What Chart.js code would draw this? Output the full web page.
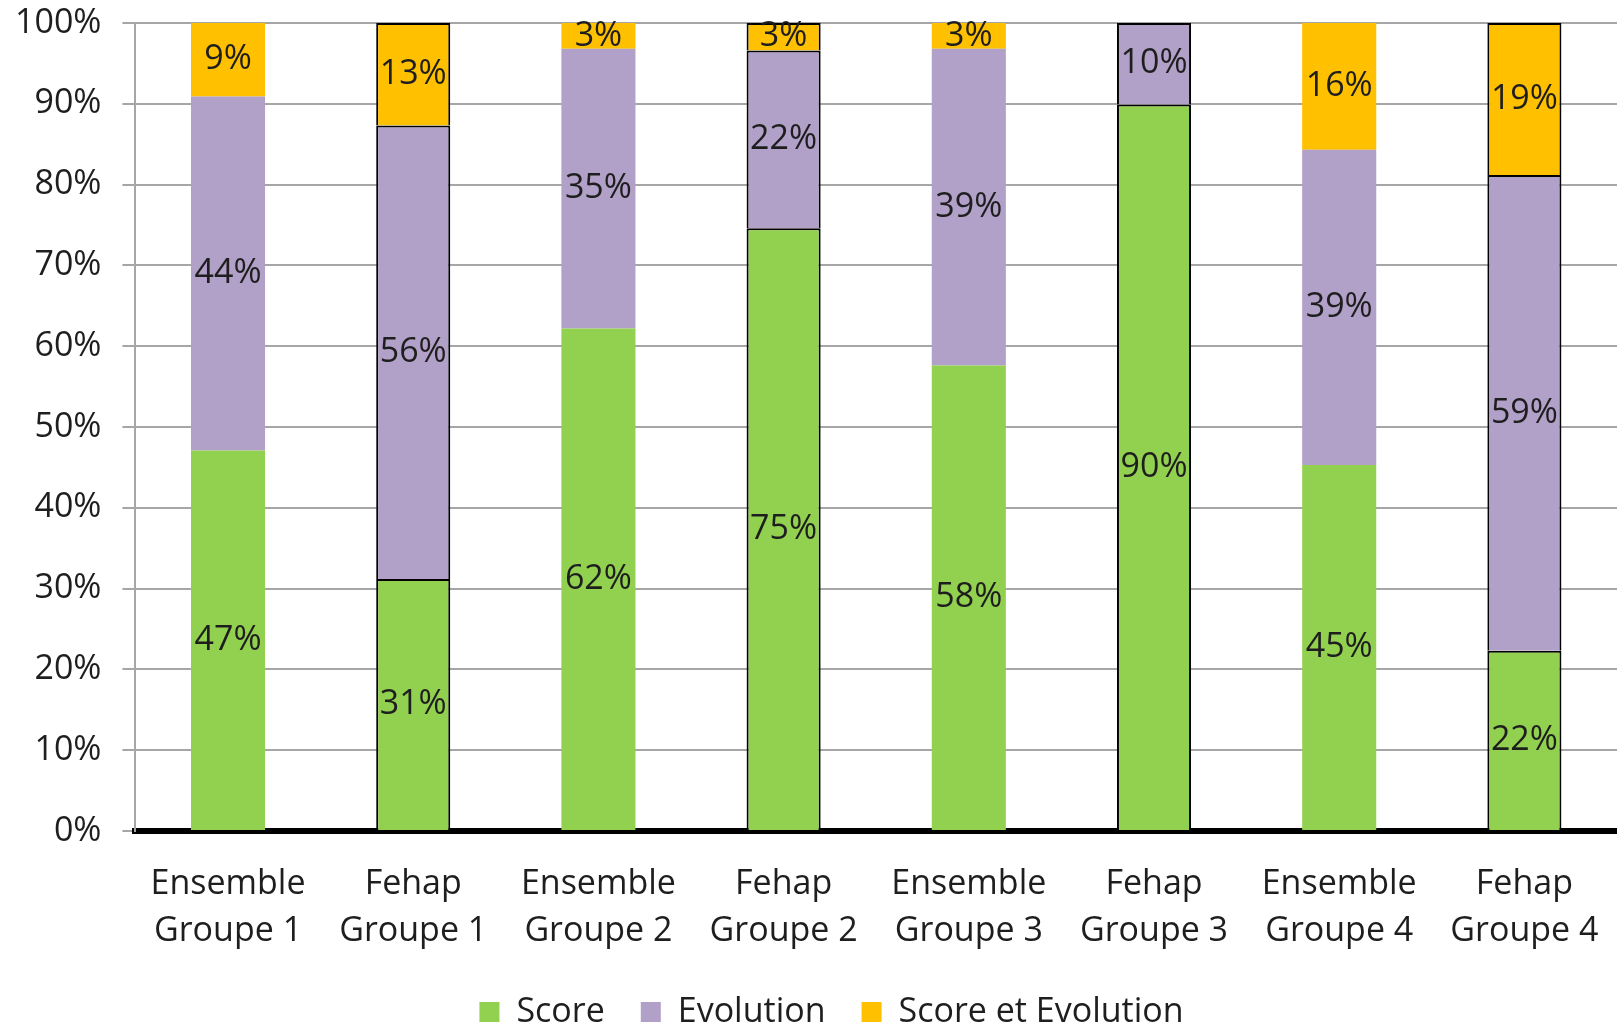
<!DOCTYPE html>
<html lang="fr">
  <head>
    <meta charset="UTF-8" />
    <title>Score / Evolution</title>
    <script src="https://cdn.jsdelivr.net/npm/chart.js"></script>
    <style>
      body { margin: 0; background: #fff; }
    </style>
  </head>
  <body>
    <canvas id="chart" width="1617" height="1024"></canvas>

    <script>
      const categories = [
        ["Ensemble", "Groupe 1"],
        ["Fehap", "Groupe 1"],
        ["Ensemble", "Groupe 2"],
        ["Fehap", "Groupe 2"],
        ["Ensemble", "Groupe 3"],
        ["Fehap", "Groupe 3"],
        ["Ensemble", "Groupe 4"],
        ["Fehap", "Groupe 4"],
      ];
      // barres Fehap encadrées de noir
      const outlined = [false, true, false, true, false, true, false, true];

      const score = [47.1, 31.2, 62.2, 74.6, 57.6, 89.9, 45.3, 22.3];
      const evolution = [43.8, 56.1, 34.6, 22.0, 39.2, 10.1, 39.0, 58.9];
      const scoreEtEvolution = [9.1, 12.7, 3.2, 3.4, 3.2, 0, 15.7, 18.8];

      const FONT = "'Open Sans', sans-serif";
      const TEXT = "#1e1e1e";

      function makeDataset(label, data, color) {
        return {
          label: label,
          data: data,
          backgroundColor: color,
          borderColor: "#000",
          borderWidth: (c) => (c.dataIndex !== undefined && outlined[c.dataIndex] ? 2 : 0),
          borderSkipped: "start",
          barPercentage: 0.4,
          categoryPercentage: 1,
        };
      }

      // étiquettes de valeur au centre de chaque segment
      const segmentLabels = {
        id: "segmentLabels",
        afterDatasetsDraw(chart) {
          const ctx = chart.ctx;
          ctx.save();
          ctx.font = "34px " + FONT;
          ctx.fillStyle = TEXT;
          ctx.textAlign = "center";
          ctx.textBaseline = "middle";
          chart.data.datasets.forEach((ds, i) => {
            chart.getDatasetMeta(i).data.forEach((bar, j) => {
              const v = ds.data[j];
              if (!v) return;
              ctx.fillText(Math.round(v) + "%", bar.x, (bar.y + bar.base) / 2);
            });
          });
          ctx.restore();
        },
      };

      // la légende est centrée sous la zone du graphique, pas sous tout le canvas
      const legendShift = {
        id: "legendShift",
        afterLayout(chart) {
          chart.legend.left += 26;
          chart.legend.right += 26;
        },
      };

      const chart = new Chart(document.getElementById("chart"), {
        type: "bar",
        data: {
          labels: categories,
          datasets: [
            makeDataset("Score", score, "#92D050"),
            makeDataset("Evolution", evolution, "#B1A0C7"),
            makeDataset("Score et Evolution", scoreEtEvolution, "#FFC000"),
          ],
        },
        options: {
          responsive: false,
          animation: false,
          devicePixelRatio: 1,
          layout: { padding: { top: 23, right: 0, left: -6, bottom: -15 } },
          plugins: {
            tooltip: { enabled: false },
            legend: {
              position: "bottom",
              labels: {
                font: { family: FONT, size: 34 },
                color: TEXT,
                boxWidth: 20,
                boxHeight: 20,
                padding: 36,
              },
            },
          },
          scales: {
            x: {
              stacked: true,
              z: 1,
              grid: { display: false, drawTicks: false },
              border: { display: true, color: "#000", width: 6 },
              ticks: {
                color: TEXT,
                padding: 30,
                maxRotation: 0,
                autoSkip: false,
                font: { family: FONT, size: 34, lineHeight: 1.38 },
              },
              afterFit: (s) => {
                s.height = 128;
                s.paddingLeft = 0;
                s.paddingRight = 0;
              },
            },
            y: {
              stacked: true,
              min: 0,
              max: 100,
              grid: { color: "#A6A6A6", lineWidth: 2, tickLength: 13 },
              border: { color: "#A6A6A6", width: 2 },
              ticks: {
                stepSize: 10,
                color: TEXT,
                padding: 21,
                font: { family: FONT, size: 34 },
                callback: (v) => v + "%",
              },
              afterFit: (s) => {
                s.paddingTop = 0;
                s.paddingBottom = 0;
              },
            },
          },
        },
        plugins: [segmentLabels, legendShift],
      });
    </script>
  </body>
</html>
